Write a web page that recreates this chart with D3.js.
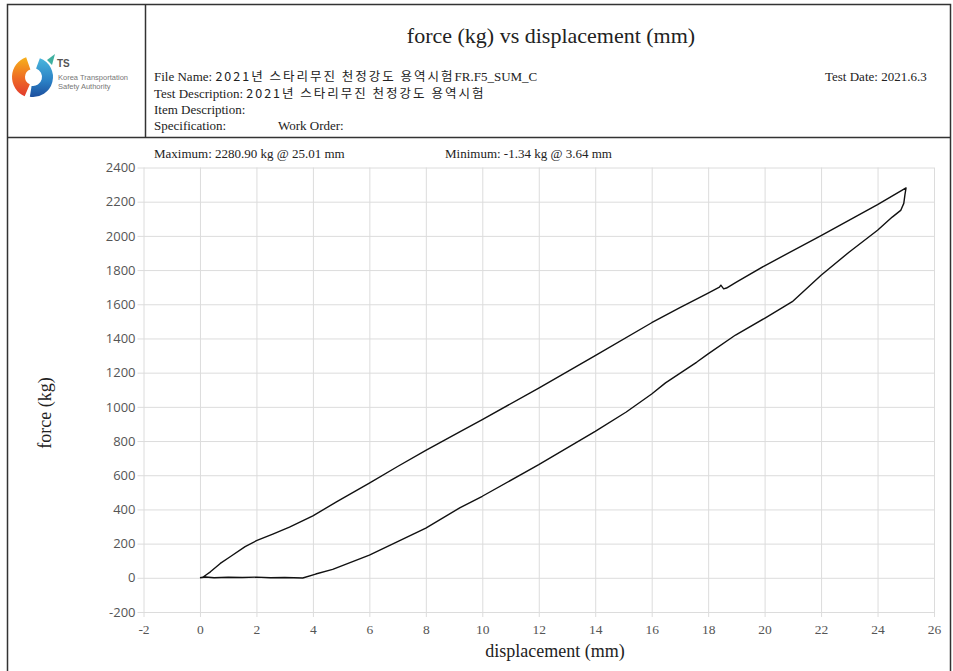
<!DOCTYPE html>
<html>

<head>
    <meta charset="utf-8">
    <style>
        body {
            margin: 0;
            background: #fff;
        }

        svg {
            display: block;
        }

        .hdr {
            font-family: 'Liberation Serif', 'Times New Roman', serif;
            fill: #222;
        }

        .title {
            font-size: 22px;
        }

        .info {
            font-size: 13px;
        }

        .kr {
            font-family: 'Noto Sans CJK KR', sans-serif;
            font-size: 12.5px;
            letter-spacing: 2px;
        }

        .grid .tick line {
            stroke: #dcdcdc;
        }

        .grid .domain {
            display: none;
        }

        .y.grid .tick text {
            font-family: 'Open Sans', sans-serif;
            font-size: 13px;
            fill: #555;
        }

        .x.grid .tick text {
            font-family: 'Liberation Serif', serif;
            font-size: 13.5px;
            fill: #555;
        }

        .axis-title {
            font-family: 'Liberation Serif', serif;
            font-size: 18px;
            fill: #222;
        }

        .logo-text {
            font-family: 'Liberation Sans', Arial, sans-serif;
            fill: #777;
        }
    </style>
</head>

<body>
    <svg width="953" height="671"></svg>

    <script src="https://d3js.org/d3.v7.min.js"></script>
    <script>
        // tick values
        let xTickValues = [-2, 0, 2, 4, 6, 8, 10, 12, 14, 16, 18, 20, 22, 24, 26];
        let yTickValues = [-200, 0, 200, 400, 600, 800, 1000, 1200, 1400, 1600, 1800, 2000, 2200, 2400];

        // loading curve (displacement mm, force kg)
        let loadDisp = [0, 0.1, 0.2, 0.37, 0.72, 1.07, 1.6, 2.0, 2.58, 3.17, 4.0, 4.85, 6.0, 7.0, 8.0, 9.2,
            10.0, 12.0, 14.0, 16.0, 17.0, 18.0, 18.4, 18.45, 18.55, 18.65, 19.0, 20.0, 22.0, 24.0, 25.01
        ];
        let loadForce = [0, 3, 15, 35, 84, 123, 182, 217, 256, 296, 362, 446, 554, 651, 745, 853,
            925, 1110, 1300, 1492, 1580, 1665, 1700, 1712, 1690, 1695, 1730, 1825, 2002, 2183, 2280.9
        ];

        // unloading curve (displacement mm, force kg)
        let unloadDisp = [25.01, 24.97, 24.93, 24.82, 24.52, 24.0, 23.0, 22.0, 20.98, 20.0, 18.97, 18.0, 17.6,
            16.49, 16.0, 15.1, 14.0, 12.0, 10.0, 9.2, 8.0, 7.0, 6.0, 4.7, 4.1, 3.64, 3.0, 2.5, 2.0, 1.5,
            1.0, 0.5, 0.2, 0
        ];
        let unloadForce = [2280.9, 2240, 2190, 2149, 2110, 2033, 1906, 1770, 1615, 1518, 1420, 1310, 1262,
            1140, 1075, 970, 857, 662, 477, 409, 291, 211, 133, 49, 22, -1.34, 2, 0, 4, 2,
            3, 0, 5, 0
        ];

        // header texts
        let titleText = "force (kg) vs displacement (mm)";
        let fileName = ["File Name: ", "2021년 스타리무진 천정강도 용역시험", "FR.F5_SUM_C"];
        let testDesc = ["Test Description: ", "2021년 스타리무진 천정강도 용역시험"];
        let testDate = "Test Date: 2021.6.3";
        let maxText = "Maximum: 2280.90 kg @ 25.01 mm";
        let minText = "Minimum: -1.34 kg @ 3.64 mm";

        let svg = d3.select("svg");

        let plot = {
            left: 143.5,
            right: 934,
            top: 167.5,
            bottom: 612
        };

        // frame
        svg.append("rect")
            .attr("x", 7.5)
            .attr("y", 4.5)
            .attr("width", 943)
            .attr("height", 670)
            .attr("fill", "none")
            .attr("stroke", "#333")
            .attr("stroke-width", 1.5)

        svg.append("line")
            .attr("x1", 7.5).attr("x2", 950.5)
            .attr("y1", 137.5).attr("y2", 137.5)
            .attr("stroke", "#333")
            .attr("stroke-width", 1.5)

        svg.append("line")
            .attr("x1", 145.5).attr("x2", 145.5)
            .attr("y1", 4.5).attr("y2", 137.5)
            .attr("stroke", "#333")
            .attr("stroke-width", 1.5)

        // logo
        let defs = svg.append("defs");
        let gWarm = defs.append("linearGradient")
            .attr("id", "warm").attr("x1", 0).attr("y1", 0).attr("x2", 0).attr("y2", 1);
        gWarm.append("stop").attr("offset", "0%").attr("stop-color", "#f7b21c");
        gWarm.append("stop").attr("offset", "55%").attr("stop-color", "#ee6a24");
        gWarm.append("stop").attr("offset", "100%").attr("stop-color", "#e23b2e");
        let gCool = defs.append("linearGradient")
            .attr("id", "cool").attr("x1", 0).attr("y1", 0).attr("x2", 0).attr("y2", 1);
        gCool.append("stop").attr("offset", "0%").attr("stop-color", "#49b6dd");
        gCool.append("stop").attr("offset", "60%").attr("stop-color", "#2a7fc4");
        gCool.append("stop").attr("offset", "100%").attr("stop-color", "#1d4f9e");

        let logo = svg.append("g").attr("transform", "translate(33,77)");
        let arc = d3.arc();
        logo.append("path")
            .attr("d", arc({ innerRadius: 8, outerRadius: 21, startAngle: 3.55, endAngle: 5.95 }))
            .attr("fill", "url(#warm)")
        logo.append("path")
            .attr("d", arc({ innerRadius: 9, outerRadius: 20, startAngle: 0.35, endAngle: 3.3 }))
            .attr("fill", "url(#cool)")
        logo.append("path")
            .attr("d", "M14,-17 L22,-23 L19,-12 Z")
            .attr("fill", "#3fb0a0")

        svg.append("text").attr("class", "logo-text")
            .attr("x", 57).attr("y", 67)
            .style("font-size", "10px").style("font-weight", "bold").style("fill", "#555")
            .text("TS")
        svg.append("text").attr("class", "logo-text")
            .attr("x", 58).attr("y", 80)
            .style("font-size", "7.5px")
            .text("Korea Transportation")
        svg.append("text").attr("class", "logo-text")
            .attr("x", 58).attr("y", 89)
            .style("font-size", "7.5px")
            .text("Safety Authority")

        // header texts
        svg.append("text")
            .attr("class", "hdr title")
            .attr("x", 551)
            .attr("y", 43)
            .attr("text-anchor", "middle")
            .text(titleText)

        let fn = svg.append("text").attr("class", "hdr info").attr("x", 154).attr("y", 81);
        fn.append("tspan").text(fileName[0]);
        fn.append("tspan").attr("class", "kr").text(fileName[1]);
        fn.append("tspan").text(fileName[2]);

        let td = svg.append("text").attr("class", "hdr info").attr("x", 154).attr("y", 98);
        td.append("tspan").text(testDesc[0]);
        td.append("tspan").attr("class", "kr").text(testDesc[1]);

        svg.append("text").attr("class", "hdr info").attr("x", 825).attr("y", 81).text(testDate)
        svg.append("text").attr("class", "hdr info").attr("x", 154).attr("y", 114).text("Item Description:")
        svg.append("text").attr("class", "hdr info").attr("x", 154).attr("y", 130).text("Specification:")
        svg.append("text").attr("class", "hdr info").attr("x", 278).attr("y", 130).text("Work Order:")

        svg.append("text").attr("class", "hdr info").attr("x", 154).attr("y", 158).text(maxText)
        svg.append("text").attr("class", "hdr info").attr("x", 445).attr("y", 158).text(minText)

        // scales
        let x = d3.scaleLinear()
            .domain([-2, 26])
            .range([plot.left, plot.right])

        let y = d3.scaleLinear()
            .domain([-200, 2400])
            .range([plot.bottom, plot.top])

        let plotW = plot.right - plot.left;
        let plotH = plot.bottom - plot.top;

        // gridlines + ticks (plain hyphen for negatives, like the original)
        svg.append("g")
            .attr("class", "y grid")
            .attr("transform", `translate(${plot.left - 6},0)`)
            .call(d3.axisLeft(y)
                .tickValues(yTickValues)
                .tickSize(-(plotW + 6))
                .tickPadding(2)
                .tickFormat(d => String(d)))

        svg.append("g")
            .attr("class", "x grid")
            .attr("transform", `translate(0,${plot.bottom + 5})`)
            .call(d3.axisBottom(x)
                .tickValues(xTickValues)
                .tickSize(-(plotH + 5))
                .tickPadding(7)
                .tickFormat(d => String(d)))

        // curve
        let pts = loadDisp.map((d, i) => [d, loadForce[i]])
            .concat(unloadDisp.map((d, i) => [d, unloadForce[i]]));

        let line = d3.line()
            .x(d => x(d[0]))
            .y(d => y(d[1]))

        svg.append("path")
            .datum(pts)
            .attr("d", line)
            .attr("fill", "none")
            .attr("stroke", "#111")
            .attr("stroke-width", 1.4)
            .attr("stroke-linejoin", "round")

        // axis titles
        svg.append("text")
            .attr("class", "axis-title")
            .attr("transform", "translate(51,413) rotate(-90)")
            .attr("text-anchor", "middle")
            .text("force (kg)")

        svg.append("text")
            .attr("class", "axis-title")
            .attr("x", 555)
            .attr("y", 657)
            .attr("text-anchor", "middle")
            .text("displacement (mm)")
    </script>
</body>

</html>
